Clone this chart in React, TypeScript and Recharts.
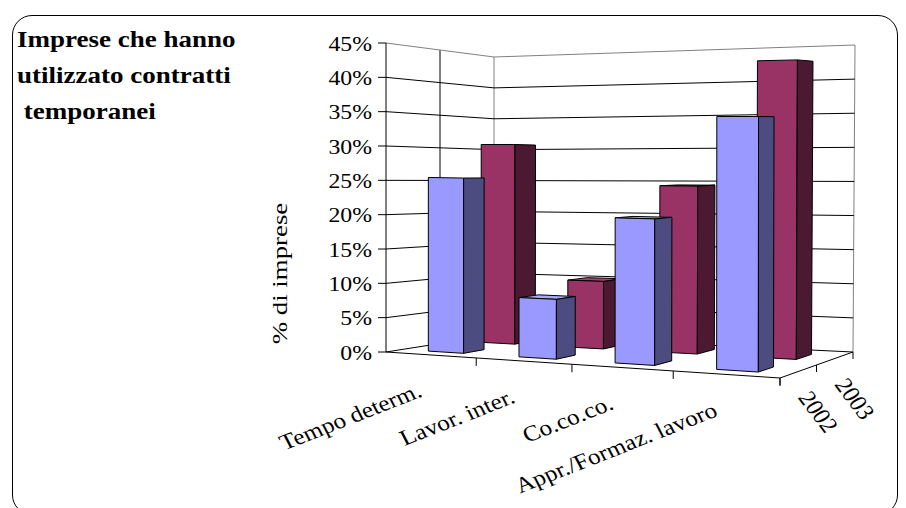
import React from "react";
import { BarChart, Bar, XAxis, YAxis, CartesianGrid } from "recharts";

const categories = ["Tempo determ.", "Lavor. inter.", "Co.co.co.", "Appr./Formaz. lavoro"];
const values2002 = [0.255, 0.085, 0.203, 0.345];
const values2003 = [0.306, 0.101, 0.245, 0.426];
const seriesLabels = ["2002", "2003"];
const yTicks = [0, 0.05, 0.1, 0.15, 0.2, 0.25, 0.3, 0.35, 0.4, 0.45];
const titleLines = ["Imprese che hanno", "utilizzato contratti", " temporanei"];
const yLabel = "% di imprese";

const data = categories.map((name, i) => ({
  name,
  v2002: values2002[i],
  v2003: values2003[i],
}));

const FONT = "'Liberation Serif', 'Times New Roman', serif";

// flat plot frame handed to recharts
const LEFT = 386;
const RIGHT = 780;
const TOP = 43;
const BOTTOM = 352;

// screen corners of the 3d box, [u][v][w] (u = category, v = value, w = depth)
const BOX: number[][][][] = [
  [
    [[386, 352], [494, 335]],
    [[386, 43], [494, 57]],
  ],
  [
    [[780, 378], [853, 352]],
    [[780, 37], [855, 45]],
  ],
];

const lerp = (a: number, b: number, t: number) => a + (b - a) * t;
// mild perspective squeeze along the category axis
const warp = (u: number) => u - 0.112 * u * (1 - u);

function P(u: number, v: number, w: number): [number, number] {
  const s = warp(u);
  const out: number[] = [0, 0];
  for (let k = 0; k < 2; k++) {
    const c00 = lerp(BOX[0][0][0][k], BOX[1][0][0][k], s);
    const c01 = lerp(BOX[0][0][1][k], BOX[1][0][1][k], s);
    const c10 = lerp(BOX[0][1][0][k], BOX[1][1][0][k], s);
    const c11 = lerp(BOX[0][1][1][k], BOX[1][1][1][k], s);
    const b0 = lerp(c00, c01, w);
    const b1 = lerp(c10, c11, w);
    out[k] = lerp(b0, b1, v);
  }
  return [out[0], out[1]];
}

const pts = (list: [number, number][]) => list.map((p) => `${p[0]},${p[1]}`).join(" ");
const toU = (x: number) => (x - LEFT) / (RIGHT - LEFT);
const toV = (y: number) => (BOTTOM - y) / (BOTTOM - TOP);

function makeBar(w0: number, w1: number, front: string, side: string, top: string) {
  return (props: any) => {
    const { x, y, width } = props;
    const u0 = toU(x);
    const u1 = toU(x + width);
    const v = toV(y);
    const frontFace = [P(u0, 0, w0), P(u1, 0, w0), P(u1, v, w0), P(u0, v, w0)];
    const sideFace = [P(u1, 0, w0), P(u1, 0, w1), P(u1, v, w1), P(u1, v, w0)];
    const topFace = [P(u0, v, w0), P(u1, v, w0), P(u1, v, w1), P(u0, v, w1)];
    const showTop = topFace[3][1] < topFace[0][1];
    return (
      <g>
        {showTop && <polygon points={pts(topFace)} fill={top} stroke="#000" strokeWidth={1} strokeLinejoin="round" />}
        <polygon points={pts(frontFace)} fill={front} stroke="#000" strokeWidth={1} strokeLinejoin="round" />
        <polygon points={pts(sideFace)} fill={side} stroke="#000" strokeWidth={1} strokeLinejoin="round" />
      </g>
    );
  };
}

const FrontBar = makeBar(0.15, 0.35, "#9999FF", "#4C4C80", "#A8A8FF");
const BackBar = makeBar(0.65, 0.85, "#993366", "#4C1933", "#A8426F");

function Line({ a, b, stroke = "#000" }: { a: [number, number]; b: [number, number]; stroke?: string }) {
  return <line x1={a[0]} y1={a[1]} x2={b[0]} y2={b[1]} stroke={stroke} strokeWidth={1} />;
}

function FloorAndWalls() {
  const catTicks = [0.25, 0.5, 0.75, 1];
  const depthTicks = [0, 0.5, 1];
  return (
    <g>
      <Line a={P(0, 0, 0.5)} b={P(0, 1, 0.5)} />
      <Line a={P(0, 0, 1)} b={P(0, 1, 1)} stroke="#808080" />
      <Line a={P(1, 0, 1)} b={P(1, 1, 1)} stroke="#808080" />
      <Line a={P(0, 0, 0)} b={P(1, 0, 0)} />
      <Line a={P(1, 0, 0)} b={P(1, 0, 1)} />
      {catTicks.map((u) => {
        const p = P(u, 0, 0);
        return <Line key={`c${u}`} a={p} b={[p[0], p[1] + 8]} />;
      })}
      {depthTicks.map((w) => {
        const p = P(1, 0, w);
        return <Line key={`d${w}`} a={p} b={[p[0], p[1] + 7]} />;
      })}
      {seriesLabels.map((label, i) => {
        const p = P(1, 0, 0.25 + 0.5 * i);
        return (
          <text
            key={label}
            transform={`translate(${p[0] - 1},${p[1] + 26}) scale(1.15,1) rotate(56.3)`}
            fontFamily={FONT}
            fontSize={22}
            fill="#000"
          >
            {label}
          </text>
        );
      })}
    </g>
  );
}

function GridLine(props: any) {
  const v = toV(props.y1);
  const isTop = v > 0.999;
  const stroke = isTop ? "#808080" : "#000";
  return (
    <g key={`grid-${props.y1}`}>
      <polyline points={pts([P(0, v, 0), P(0, v, 1), P(1, v, 1)])} fill="none" stroke={stroke} strokeWidth={1} />
      {v < 0.001 && <FloorAndWalls />}
    </g>
  );
}

function YTick(props: any) {
  const { x, y, payload } = props;
  return (
    <text transform={`translate(${x},${y}) scale(1.08,1)`} dy="0.355em" textAnchor="end" fontFamily={FONT} fontSize={22} fill="#000">
      {`${Math.round(payload.value * 100)}%`}
    </text>
  );
}

function CategoryTick(props: any) {
  const { x, payload } = props;
  const p = P(toU(x), 0, 0);
  return (
    <text
      transform={`translate(${p[0] - 7},${p[1] + 41}) scale(1.15,1) rotate(-24.3)`}
      textAnchor="end"
      fontFamily={FONT}
      fontSize={22}
      fill="#000"
    >
      {payload.value}
    </text>
  );
}

export default function App() {
  return (
    <div style={{ position: "absolute", left: 0, top: 0, width: 906, height: 508, overflow: "hidden", background: "#fff" }}>
      <div
        style={{
          position: "absolute",
          left: 12,
          top: 15,
          width: 886,
          height: 500,
          border: "1.5px solid #000",
          borderRadius: 20,
          boxSizing: "border-box",
        }}
      />
      <div style={{ position: "absolute", left: 0, top: 0 }}>
        <BarChart width={906} height={508} data={data} margin={{ top: TOP, right: 906 - RIGHT, bottom: 508 - BOTTOM - 1, left: LEFT - 60 }} barCategoryGap="30%">
          <CartesianGrid xAxisId="front" vertical={false} horizontal={GridLine} />
          <XAxis xAxisId="front" dataKey="name" height={1} axisLine={false} tickLine={false} interval={0} tick={CategoryTick} />
          <XAxis xAxisId="back" dataKey="name" hide />
          <YAxis
            width={60}
            domain={[0, 0.45]}
            ticks={yTicks}
            interval={0}
            tick={YTick}
            tickSize={8}
            tickMargin={6}
            axisLine={{ stroke: "#000" }}
            tickLine={{ stroke: "#000" }}
          />
          <Bar xAxisId="back" dataKey="v2003" isAnimationActive={false} shape={BackBar} />
          <Bar xAxisId="front" dataKey="v2002" isAnimationActive={false} shape={FrontBar} />
        </BarChart>
      </div>
      <svg width={906} height={508} style={{ position: "absolute", left: 0, top: 0, pointerEvents: "none" }}>
        {titleLines.map((line, i) => (
          <text
            key={i}
            transform={`translate(17,${47 + 36 * i}) scale(1.15,1)`}
            fontFamily={FONT}
            fontSize={23.5}
            fontWeight="bold"
            fill="#000"
            style={{ whiteSpace: "pre" }}
          >
            {line}
          </text>
        ))}
        <text
          transform="translate(287,273.5) rotate(-90) scale(1.22,1)"
          textAnchor="middle"
          fontFamily={FONT}
          fontSize={22}
          fill="#000"
        >
          {yLabel}
        </text>
      </svg>
    </div>
  );
}
